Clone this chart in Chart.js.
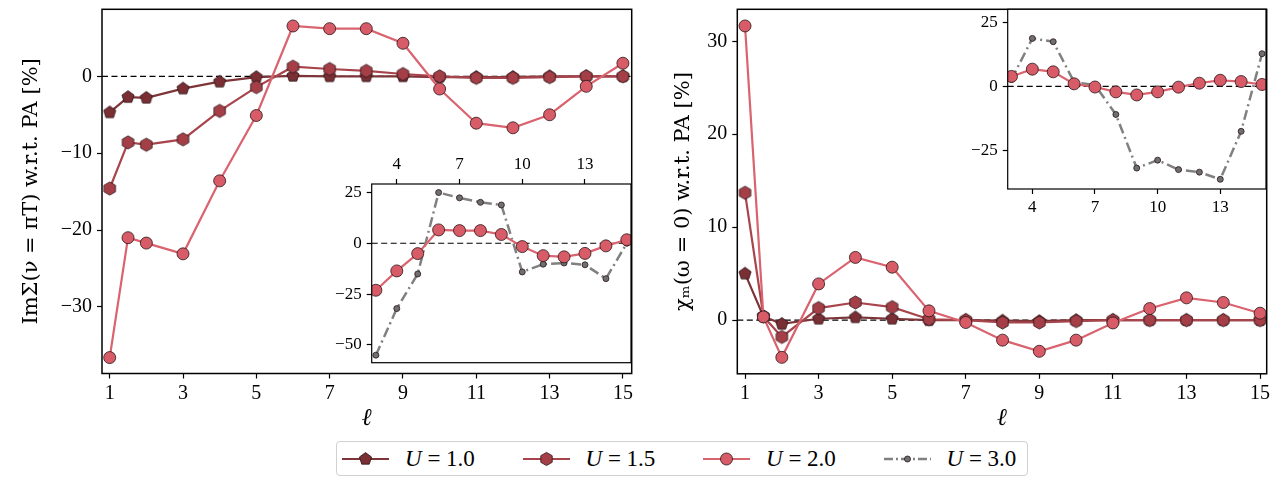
<!DOCTYPE html>
<html>
<head>
<meta charset="utf-8">
<script src="https://cdn.jsdelivr.net/npm/chart.js@4.4.1/dist/chart.umd.min.js"></script>
<style>
  body { margin: 0; background: #fff; }
  #page { position: relative; width: 1280px; height: 480px; overflow: hidden; font-family: 'Liberation Serif', serif; }
  #page canvas { position: absolute; }
  #legend { position: absolute; left: 336px; top: 441px; width: 692px; height: 35px; border: 1px solid #d0d0d0; border-radius: 4px; box-sizing: border-box; }
  .item { position: absolute; top: 0; height: 33px; display: flex; align-items: center; font-size: 23px; color: #000; white-space: nowrap; }
  .item svg { margin-right: 16px; }
</style>
</head>
<body>
<div id="page">
  <canvas id="mainSigma" width="640" height="440" style="left:0;top:0"></canvas>
  <canvas id="mainChi" width="640" height="440" style="left:640px;top:0"></canvas>
  <canvas id="insetSigma" width="340" height="250" style="left:300px;top:130px"></canvas>
  <canvas id="insetChi" width="340" height="240" style="left:940px;top:0"></canvas>
  <div id="legend"></div>
</div>
<script>
// valeurs de l
const ellMain = [1, 1.5, 2, 3, 4, 5, 6, 7, 8, 9, 10, 11, 12, 13, 14, 15];
const ellInset = [3, 4, 5, 6, 7, 8, 9, 10, 11, 12, 13, 14, 15];

// Im Sigma(nu = pi T), ecart relatif en %
const sigmaU10 = [-4.7, -2.7, -2.8, -1.6, -0.7, -0.1, 0.05, 0.0, 0.0, 0.0, -0.1, -0.1, -0.1, 0.0, 0.0, 0.0];
const sigmaU15 = [-14.6, -8.6, -8.9, -8.2, -4.5, -1.4, 1.25, 0.95, 0.7, 0.3, 0.0, -0.2, -0.2, -0.1, 0.0, 0.0];
const sigmaU20 = [-36.6, -21.0, -21.7, -23.1, -13.6, -5.1, 6.55, 6.2, 6.2, 4.3, -1.65, -6.1, -6.7, -5.0, -1.3, 1.7];
const sigmaU30 = [-55.0, -32.1, -15.1, 24.9, 22.3, 20.1, 18.8, -14.1, -10.3, -9.7, -10.6, -17.4, 0.0];

// chi_m(omega = 0), ecart relatif en %
const chiU10 = [5.0, 0.4, -0.4, 0.15, 0.3, 0.15, 0.0, 0.0, -0.05, -0.1, 0.0, 0.0, 0.0, 0.0, 0.0, 0.0];
const chiU15 = [13.7, 0.4, -1.8, 1.3, 1.9, 1.4, 0.1, 0.0, -0.25, -0.25, -0.1, 0.0, 0.0, 0.0, 0.0, 0.0];
const chiU20 = [31.65, 0.35, -4.0, 3.9, 6.75, 5.7, 1.0, -0.25, -2.15, -3.35, -2.15, -0.3, 1.25, 2.4, 1.9, 0.75];
const chiU30 = [2.7, 18.8, 17.5, 1.7, 0.5, -11.0, -32.0, -28.9, -32.6, -33.6, -36.4, -17.6, 12.8];

// graduations
const xTicksMain = [1, 3, 5, 7, 9, 11, 13, 15];
const xTicksInset = [4, 7, 10, 13];
const yTicksSigma = [0, -10, -20, -30];
const yTicksChi = [0, 10, 20, 30];
const yTicksSigmaInset = [25, 0, -25, -50];
const yTicksChiInset = [25, 0, -25];

const legendLabels = ['1.0', '1.5', '2.0', '3.0'];

const SERIF = "'Liberation Serif', serif";
const TITLE_SERIF = "'DejaVu Serif', serif";
const EDGE = '#2b1416';

function polygonMarker(sides, r, fill, stroke) {
    const size = Math.ceil(2 * r + 3);
    const c = document.createElement('canvas');
    c.width = size;
    c.height = size;
    const g = c.getContext('2d');
    g.beginPath();
    for (let k = 0; k < sides; k++) {
        const a = -Math.PI / 2 + k * 2 * Math.PI / sides;
        const px = size / 2 + r * Math.cos(a);
        const py = size / 2 + r * Math.sin(a);
        if (k === 0) g.moveTo(px, py); else g.lineTo(px, py);
    }
    g.closePath();
    g.fillStyle = fill;
    g.fill();
    g.lineWidth = 0.8;
    g.strokeStyle = stroke;
    g.stroke();
    return c;
}

// styles des series
const styles = {
    u10: { line: '#7d3539', fill: '#7a2f34', marker: polygonMarker(5, 6.4, '#7a2f34', EDGE), radius: 6, order: 3 },
    u15: { line: '#a8454c', fill: '#a53f47', marker: polygonMarker(6, 6.6, '#a53f47', EDGE), radius: 6, order: 2 },
    u20: { line: '#d9636e', fill: '#d75c68', marker: 'circle', radius: 6, order: 1 },
    u30: { line: '#808080', fill: '#6f6f6f', marker: 'circle', radius: 3, order: 4, dash: [10, 4, 2, 4] }
};

function serie(xs, ys, st) {
    return {
        data: xs.map((x, i) => ({ x: x, y: ys[i] })),
        borderColor: st.line,
        borderWidth: st.dash ? 2.5 : 2.2,
        borderDash: st.dash || [],
        backgroundColor: st.fill,
        pointStyle: st.marker,
        pointRadius: st.radius,
        pointBackgroundColor: st.fill,
        pointBorderColor: EDGE,
        pointBorderWidth: 0.8,
        tension: 0,
        order: st.order
    };
}

const framePlugin = {
    id: 'frame',
    beforeDraw(chart, args, opts) {
        const a = chart.chartArea;
        if (opts.fill) {
            chart.ctx.save();
            chart.ctx.fillStyle = opts.fill;
            chart.ctx.fillRect(a.left, a.top, a.right - a.left, a.bottom - a.top);
            chart.ctx.restore();
        }
    },
    beforeDatasetsDraw(chart) {
        const ctx = chart.ctx;
        const a = chart.chartArea;
        const y = chart.scales.y.getPixelForValue(0);
        ctx.save();
        ctx.strokeStyle = '#000';
        ctx.lineWidth = 1.2;
        ctx.setLineDash([6, 3.5]);
        ctx.beginPath();
        ctx.moveTo(a.left, y);
        ctx.lineTo(a.right, y);
        ctx.stroke();
        ctx.restore();
    },
    afterDraw(chart, args, opts) {
        const ctx = chart.ctx;
        const a = chart.chartArea;
        ctx.save();
        ctx.strokeStyle = '#000';
        ctx.lineWidth = opts.width || 1.5;
        ctx.strokeRect(a.left, a.top, a.right - a.left, a.bottom - a.top);
        ctx.restore();
    }
};

const moins = v => String(v).replace('-', '\u2212');

function axis(cfg) {
    const a = {
        type: 'linear',
        position: cfg.position,
        min: cfg.min,
        max: cfg.max,
        afterBuildTicks: scale => { scale.ticks = cfg.ticks.map(v => ({ value: v })); },
        afterFit: scale => {
            // la zone du graphe est fixee par layout.padding seulement
            scale.paddingTop = 0;
            scale.paddingBottom = 0;
            scale.paddingLeft = 0;
            scale.paddingRight = 0;
            if (cfg.width !== undefined) scale.width = cfg.width;
            if (cfg.height !== undefined) scale.height = cfg.height;
        },
        grid: { display: true, drawOnChartArea: false, drawTicks: true, tickLength: 5, tickWidth: 1.2, tickColor: '#000' },
        border: { display: false },
        ticks: {
            autoSkip: false,
            maxRotation: 0,
            padding: cfg.tickPad,
            color: '#000',
            font: { family: SERIF, size: cfg.fontSize },
            callback: moins
        }
    };
    if (cfg.title) {
        a.title = {
            display: true,
            text: cfg.title,
            color: '#000',
            font: { family: cfg.titleFont || TITLE_SERIF, size: cfg.titleSize, style: cfg.titleStyle || 'normal' },
            padding: cfg.titlePad
        };
    }
    return a;
}

function chart(id, datasets, scales, padding, frameOpts) {
    return new Chart(document.getElementById(id), {
        type: 'line',
        data: { datasets: datasets },
        options: {
            responsive: false,
            animation: false,
            events: [],
            layout: { padding: padding },
            scales: scales,
            plugins: {
                legend: { display: false },
                tooltip: { enabled: false },
                frame: frameOpts
            }
        },
        plugins: [framePlugin]
    });
}

// panneau gauche
chart('mainSigma', [
    serie(ellMain, sigmaU10, styles.u10),
    serie(ellMain, sigmaU15, styles.u15),
    serie(ellMain, sigmaU20, styles.u20)
], {
    x: axis({ position: 'bottom', min: 0.79, max: 15.24, ticks: xTicksMain, height: 66.5, tickPad: 3, fontSize: 20,
        title: '\u2113', titleSize: 24, titleStyle: 'italic', titleFont: SERIF, titlePad: { top: 0, bottom: 7 } }),
    y: axis({ position: 'left', min: -38.67, max: 8.72, ticks: yTicksSigma, width: 102, tickPad: 5, fontSize: 20,
        title: 'Im\u03A3(\u03BD = \u03C0T) w.r.t. PA [%]', titleSize: 21, titlePad: { top: 19.4, bottom: 0 } })
}, { left: 0, top: 9.3, right: 8.3, bottom: 0 }, { width: 1.5 });

// panneau droit
chart('mainChi', [
    serie(ellMain, chiU10, styles.u10),
    serie(ellMain, chiU15, styles.u15),
    serie(ellMain, chiU20, styles.u20)
], {
    x: axis({ position: 'bottom', min: 0.79, max: 15.18, ticks: xTicksMain, height: 66.2, tickPad: 3, fontSize: 20,
        title: '\u2113', titleSize: 24, titleStyle: 'italic', titleFont: SERIF, titlePad: { top: 0, bottom: 7 } }),
    y: axis({ position: 'left', min: -5.77, max: 33.44, ticks: yTicksChi, width: 97.3, tickPad: 5, fontSize: 20,
        title: '\u03C7\u2098(\u03C9 = 0) w.r.t. PA [%]', titleSize: 21, titlePad: { top: 31.4, bottom: 0 } })
}, { left: 0, top: 9.3, right: 13.3, bottom: 0 }, { width: 1.5 });

// encart gauche
chart('insetSigma', [
    serie(ellInset, sigmaU20.slice(3), styles.u20),
    serie(ellInset, sigmaU30, styles.u30)
], {
    x: axis({ position: 'top', min: 2.8, max: 15.2, ticks: xTicksInset, height: 54, tickPad: 4, fontSize: 17 }),
    y: axis({ position: 'left', min: -58.7, max: 29.1, ticks: yTicksSigmaInset, width: 71.7, tickPad: 5, fontSize: 17 })
}, { left: 0, top: 0, right: 9, bottom: 17.3 }, { width: 1.2, fill: '#fff' });

// encart droit
chart('insetChi', [
    serie(ellInset, chiU20.slice(3), styles.u20),
    serie(ellInset, chiU30, styles.u30)
], {
    x: axis({ position: 'bottom', min: 2.82, max: 15.19, ticks: xTicksInset, height: 51, tickPad: 3, fontSize: 17 }),
    y: axis({ position: 'left', min: -40.2, max: 30.2, ticks: yTicksChiInset, width: 67.7, tickPad: 5, fontSize: 17 })
}, { left: 0, top: 9.3, right: 14, bottom: 0 }, { width: 1.2, fill: '#fff' });

// legende
function legendSymbol(st) {
    const svgNS = 'http://www.w3.org/2000/svg';
    const svg = document.createElementNS(svgNS, 'svg');
    svg.setAttribute('width', '47');
    svg.setAttribute('height', '20');
    const line = document.createElementNS(svgNS, 'line');
    line.setAttribute('x1', '0');
    line.setAttribute('x2', '47');
    line.setAttribute('y1', '10');
    line.setAttribute('y2', '10');
    line.setAttribute('stroke', st.line);
    line.setAttribute('stroke-width', st.dash ? '2.5' : '2.2');
    if (st.dash) line.setAttribute('stroke-dasharray', '9,3,2,3');
    svg.appendChild(line);
    let mark;
    if (st.marker === 'circle') {
        mark = document.createElementNS(svgNS, 'circle');
        mark.setAttribute('cx', '23.5');
        mark.setAttribute('cy', '10');
        mark.setAttribute('r', String(st.radius));
    } else {
        const sides = st === styles.u10 ? 5 : 6;
        const r = sides === 5 ? 6.4 : 6.6;
        const pts = [];
        for (let k = 0; k < sides; k++) {
            const a = -Math.PI / 2 + k * 2 * Math.PI / sides;
            pts.push((23.5 + r * Math.cos(a)).toFixed(2) + ',' + (10 + r * Math.sin(a)).toFixed(2));
        }
        mark = document.createElementNS(svgNS, 'polygon');
        mark.setAttribute('points', pts.join(' '));
    }
    mark.setAttribute('fill', st.fill);
    mark.setAttribute('stroke', EDGE);
    mark.setAttribute('stroke-width', '0.8');
    svg.appendChild(mark);
    return svg;
}

const legende = document.getElementById('legend');
[styles.u10, styles.u15, styles.u20, styles.u30].forEach((st, i) => {
    const item = document.createElement('div');
    item.className = 'item';
    item.style.left = (5 + i * 180.5) + 'px';
    item.appendChild(legendSymbol(st));
    const txt = document.createElement('span');
    txt.innerHTML = '<i>U</i> = ' + legendLabels[i];
    item.appendChild(txt);
    legende.appendChild(item);
});
</script>
</body>
</html>
